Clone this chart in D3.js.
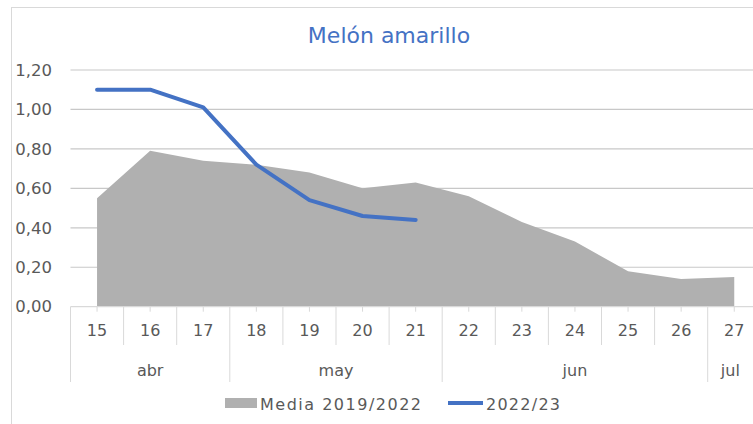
<!DOCTYPE html>
<html>
<head>
<meta charset="utf-8">
<script src="https://cdn.jsdelivr.net/npm/d3@7"></script>
<style>
  body { margin: 0; background: #fff; }
  svg text { font-family: "DejaVu Sans", sans-serif; fill: #595959; }
</style>
</head>
<body>
<div id="chart"></div>
<script>
// Datos
var semanas = ["15", "16", "17", "18", "19", "20", "21", "22", "23", "24", "25", "26", "27"];
var mesDeSemana = ["abr", "abr", "abr", "may", "may", "may", "may", "jun", "jun", "jun", "jun", "jun", "jul"];
var media = [0.55, 0.79, 0.74, 0.72, 0.68, 0.60, 0.63, 0.56, 0.43, 0.33, 0.18, 0.14, 0.15];
var actual = [1.10, 1.10, 1.01, 0.72, 0.54, 0.46, 0.44];
var yTicks = [0, 0.2, 0.4, 0.6, 0.8, 1.0, 1.2];
var titulo = "Melón amarillo";
var serieNombres = ["Media 2019/2022", "2022/23"];

var W = 753, H = 424;
var plotLeft = 70.5, plotTop = 70, plotBottom = 306.7, step = 53.1;

var svg = d3.select("#chart").append("svg").attr("width", W).attr("height", H);

// borde del gráfico
svg.append("rect").attr("x", 11.5).attr("y", 7.5).attr("width", 800).attr("height", 500)
    .attr("fill", "none").attr("stroke", "#d9d9d9");

var x = d3.scaleBand().domain(semanas).range([plotLeft, plotLeft + step * semanas.length]);
var y = d3.scaleLinear().domain([0, 1.2]).range([plotBottom, plotTop]);
var cx = function(d) { return x(d) + x.bandwidth() / 2; };

// grid
svg.append("g").selectAll("line").data(yTicks.slice(1)).join("line")
    .attr("x1", plotLeft).attr("x2", W)
    .attr("y1", function(d) { return y(d); }).attr("y2", function(d) { return y(d); })
    .attr("stroke", "#c8c8c8").attr("stroke-width", 1.2);

// etiquetas eje y
svg.append("g").selectAll("text").data(yTicks).join("text")
    .attr("x", 52).attr("y", function(d) { return y(d); }).attr("dy", "0.35em")
    .attr("text-anchor", "end").style("font-size", "16.5px")
    .text(function(d) { return d3.format(".2f")(d).replace(".", ","); });

// área media
var area = d3.area().x(function(d, i) { return cx(semanas[i]); })
    .y0(y(0)).y1(function(d) { return y(d); });
svg.append("path").datum(media).attr("d", area).attr("fill", "#b0b0b0");

// línea actual
var line = d3.line().x(function(d, i) { return cx(semanas[i]); }).y(function(d) { return y(d); });
svg.append("path").datum(actual).attr("d", line).attr("fill", "none")
    .attr("stroke", "#4472c4").attr("stroke-width", 4).attr("stroke-linejoin", "round").attr("stroke-linecap", "round");

// eje x
var ax = svg.append("g");
ax.append("line").attr("x1", plotLeft).attr("x2", W).attr("y1", plotBottom).attr("y2", plotBottom)
    .attr("stroke", "#d9d9d9").attr("stroke-width", 1.2);
ax.selectAll(".tk").data(semanas).join("line").attr("class", "tk")
    .attr("x1", cx).attr("x2", cx).attr("y1", plotBottom).attr("y2", plotBottom + 5)
    .attr("stroke", "#d9d9d9");
ax.selectAll(".dv").data(semanas).join("line").attr("class", "dv")
    .attr("x1", function(d) { return x(d); }).attr("x2", function(d) { return x(d); })
    .attr("y1", plotBottom)
    .attr("y2", function(d, i) { return (i == 0 || mesDeSemana[i] != mesDeSemana[i - 1]) ? 382 : 345; })
    .attr("stroke", "#d9d9d9");
ax.selectAll(".lb").data(semanas).join("text").attr("class", "lb")
    .attr("x", cx).attr("y", 330).attr("dy", "0.35em").attr("text-anchor", "middle")
    .style("font-size", "16px").text(function(d) { return d; });

// meses
var meses = d3.groups(semanas.map(function(s, i) { return { s: s, m: mesDeSemana[i] }; }), function(d) { return d.m; });
ax.selectAll(".mes").data(meses).join("text").attr("class", "mes")
    .attr("x", function(g) {
      var a = x(g[1][0].s), b = x(g[1][g[1].length - 1].s) + x.bandwidth();
      return Math.min((a + b) / 2, (a + W) / 2);
    })
    .attr("y", 370).attr("dy", "0.35em").attr("text-anchor", "middle")
    .style("font-size", "16px").text(function(g) { return g[0]; });

// título
svg.append("text").attr("x", 389).attr("y", 35).attr("dy", "0.35em").attr("text-anchor", "middle")
    .style("font-size", "22px").style("fill", "#4472c4").text(titulo);

// leyenda
var lg = svg.append("g");
lg.append("rect").attr("x", 225).attr("y", 398).attr("width", 32).attr("height", 10).attr("fill", "#b0b0b0");
lg.append("text").attr("x", 260).attr("y", 404).attr("dy", "0.35em").style("font-size", "16px")
    .attr("textLength", 161).text(serieNombres[0]);
lg.append("line").attr("x1", 448).attr("x2", 483).attr("y1", 403).attr("y2", 403)
    .attr("stroke", "#4472c4").attr("stroke-width", 4);
lg.append("text").attr("x", 486).attr("y", 404).attr("dy", "0.35em").style("font-size", "16px")
    .attr("textLength", 74).text(serieNombres[1]);
</script>
</body>
</html>
